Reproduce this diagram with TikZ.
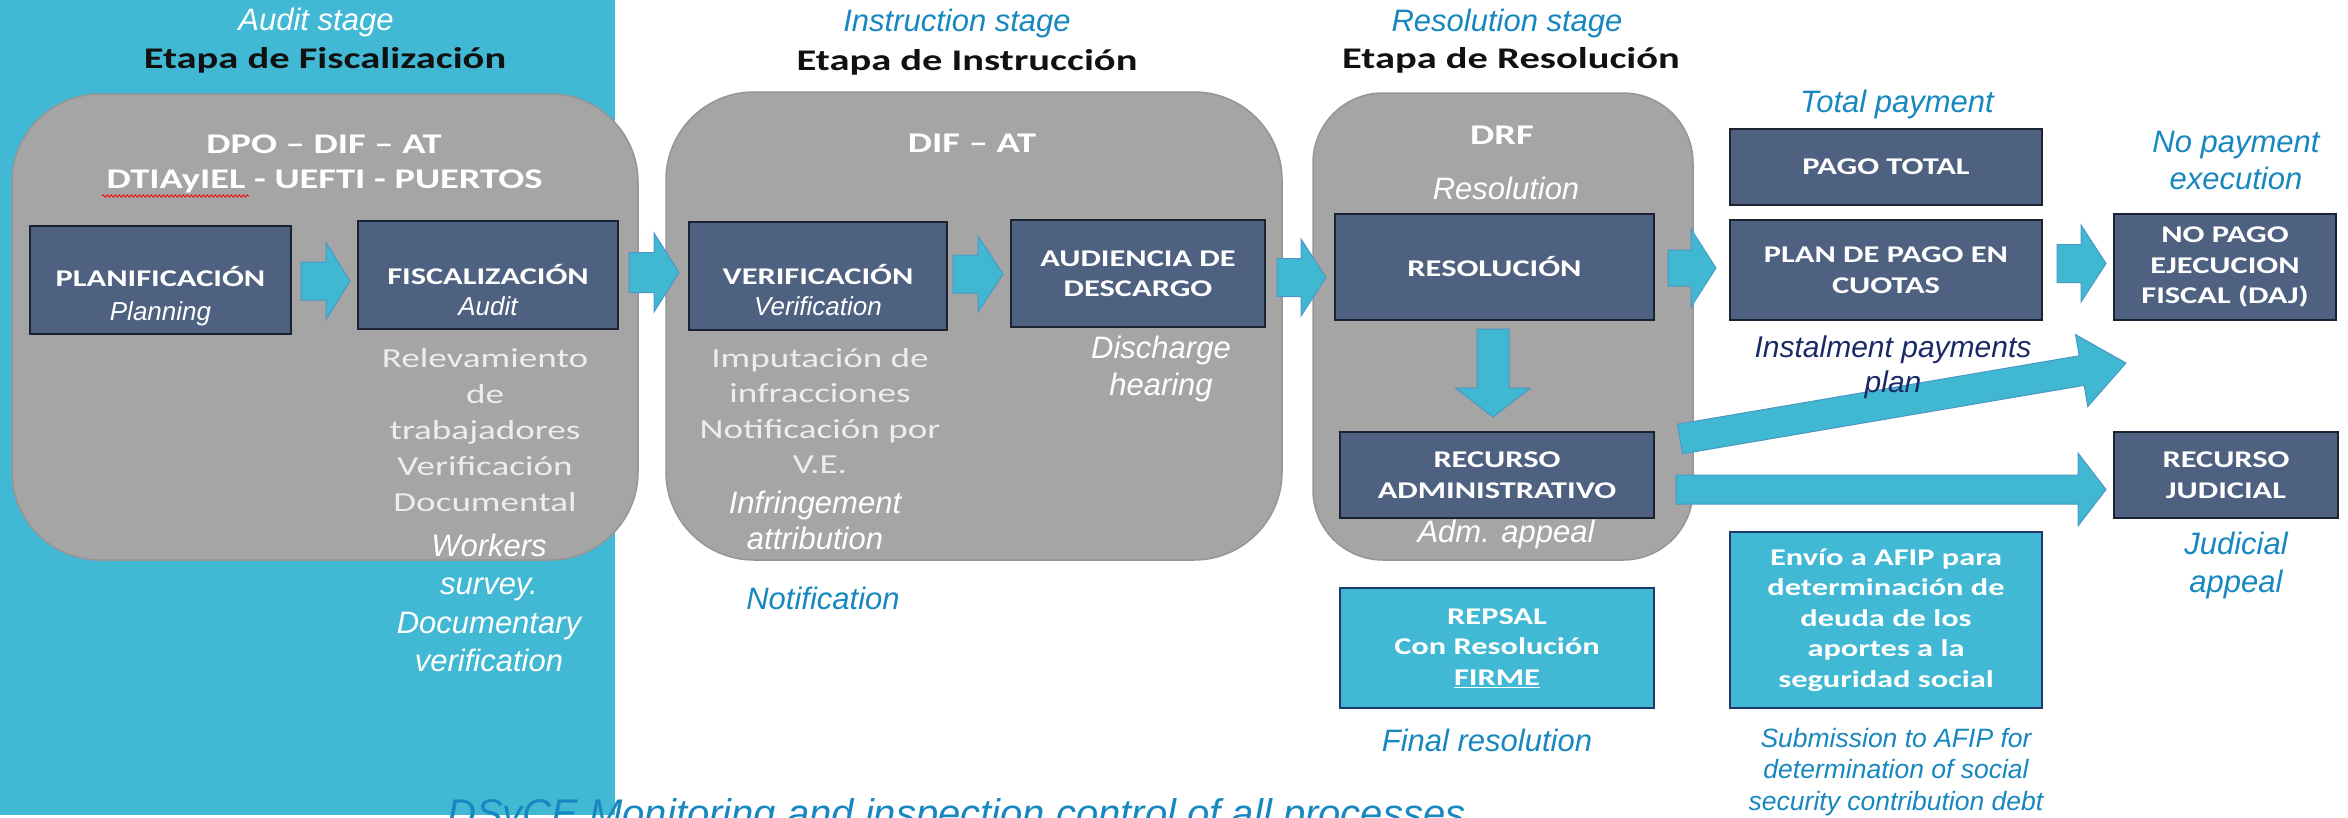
\documentclass[tikz,border=0pt]{standalone}
\usepackage{fontspec}
\setmainfont{Liberation Sans}
\newfontfamily\calfam[FakeStretch=1.35]{Carlito}
\usetikzlibrary{calc,decorations.pathmorphing}
\definecolor{cyanbg}{HTML}{41B9D4}
\definecolor{cyanbox}{HTML}{41B9D4}
\definecolor{grayb}{HTML}{A5A5A5}
\definecolor{grayedge}{HTML}{959595}
\definecolor{darkb}{HTML}{4F6180}
\definecolor{darkedge}{HTML}{1C2330}
\definecolor{cyanedge}{HTML}{1F3A6E}
\definecolor{bluet}{HTML}{1787C0}
\definecolor{navyt}{HTML}{1B2A66}
\definecolor{arrowf}{HTML}{40B8D2}
\definecolor{arrowe}{HTML}{4A98C6}
\definecolor{lgray}{HTML}{EDEDED}
\definecolor{headblack}{HTML}{111111}
% block arrow: #1 start, #2 tip, #3 shaft half width, #4 head half width, #5 head length
\newcommand\blockarrow[5]{%
  \coordinate (ba-c) at ($(#2)!#5!(#1)$);
  \draw[barrow] ($(#1)!#3!90:(#2)$) -- ($(ba-c)!#3!90:(#2)$) -- ($(ba-c)!#4!90:(#2)$) -- (#2)
     -- ($(ba-c)!#4!-90:(#2)$) -- ($(ba-c)!#3!-90:(#2)$) -- ($(#1)!#3!-90:(#2)$) -- cycle;}
\newcommand\engin[1]{{\normalfont\itshape\fontsize{26}{31}\selectfont #1}}
\begin{document}
\begin{tikzpicture}[x=1pt,y=-1pt,
  gbox/.style={draw=grayedge, line width=1.5pt, fill=grayb, inner sep=0pt},
  dbox/.style={draw=darkedge, line width=2.5pt, fill=darkb, inner sep=0pt, text=white, align=center,
     font=\calfam\bfseries\fontsize{24}{30.5}\selectfont},
  cbox/.style={dbox, draw=cyanedge, line width=2pt, fill=cyanbox},
  barrow/.style={fill=arrowf, draw=arrowe, line width=1pt, line join=miter},
  eng/.style={inner sep=0pt, align=center, font=\itshape\fontsize{31}{37}\selectfont},
  engw/.style={eng, text=white},
  engb/.style={eng, text=bluet},
  spa/.style={inner sep=0pt, align=center, text=lgray, font=\calfam\fontsize{27.5}{36}\selectfont},
  head/.style={inner sep=0pt, text=headblack, font=\calfam\bfseries\fontsize{30}{36}\selectfont},
  org/.style={inner sep=0pt, text=white, align=center, font=\calfam\bfseries\fontsize{28.5}{36}\selectfont},
  btext/.style={inner sep=0pt, text=white, align=center, font=\calfam\bfseries\fontsize{24}{31}\selectfont},
  wavy/.style={draw=red, line width=0.8pt, decorate, decoration={snake, amplitude=1.2pt, segment length=4pt}}
]
\useasboundingbox (0,0) rectangle (2348,817);
\clip (0,0) rectangle (2348,817);
\fill[cyanbg] (0,0) rectangle (615,815);

% stage containers
\node[gbox, minimum width=626pt, minimum height=466pt, rounded corners=88pt] (g1) at (325,327) {};
\node[gbox, minimum width=616pt, minimum height=468pt, rounded corners=88pt] (g2) at (974,326) {};
\node[gbox, minimum width=380pt, minimum height=467pt, rounded corners=70pt] (g3) at (1503,326.5) {};

% stage titles
\node[engw] (t1a) at (316,22) {Audit stage};
\node[head] (t1b) at (325,60) {Etapa de Fiscalización};
\node[engb] (t2a) at (957,23) {Instruction stage};
\node[head] (t2b) at (967,62) {Etapa de Instrucción};
\node[engb] (t3a) at (1507,23) {Resolution stage};
\node[head] (t3b) at (1511,60) {Etapa de Resolución};

% organisms
\node[org] (o1a) at (324,144) {DPO – DIF – AT};
\node[org] (o1b) at (324.5,181) {DTIAyIEL - UEFTI - PUERTOS};
\draw[wavy] (102,196) -- (249,196);
\node[org] (o2) at (972,143) {DIF – AT};
\node[org] (o3) at (1502,135) {DRF};
\node[engw] (o3e) at (1506,188) {Resolution};

% block arrows
\coordinate (a1s) at (301,281);    \coordinate (a1e) at (350,281);
\coordinate (a2s) at (629,272.5);  \coordinate (a2e) at (679,272.5);
\coordinate (a3s) at (953,274);    \coordinate (a3e) at (1003,274);
\coordinate (a4s) at (1277,277.5); \coordinate (a4e) at (1326,277.5);
\coordinate (a5s) at (1668,268);   \coordinate (a5e) at (1716,268);
\coordinate (a6s) at (2057,263.5); \coordinate (a6e) at (2106,263.5);
\coordinate (a7s) at (1493,329);   \coordinate (a7e) at (1493,417);
\coordinate (a8s) at (1680,439);   \coordinate (a8e) at (2126,363);
\coordinate (a9s) at (1676,489.5); \coordinate (a9e) at (2106,489.5);
\blockarrow{a1s}{a1e}{19pt}{38.5pt}{24pt}
\blockarrow{a2s}{a2e}{20pt}{39.5pt}{25pt}
\blockarrow{a3s}{a3e}{19pt}{38pt}{25pt}
\blockarrow{a4s}{a4e}{19pt}{38.5pt}{25pt}
\blockarrow{a5s}{a5e}{18pt}{39pt}{25pt}
\blockarrow{a6s}{a6e}{19pt}{38.5pt}{25pt}
\blockarrow{a7s}{a7e}{16pt}{37.5pt}{29pt}
\blockarrow{a8s}{a8e}{15pt}{36.5pt}{45pt}
\blockarrow{a9s}{a9e}{14.5pt}{36.5pt}{28pt}

% process boxes
\node[dbox, minimum width=261pt, minimum height=108pt] (plan) at (160.5,280) {};
\node[btext] (plant) at (160.5,296) {PLANIFICACIÓN\\[3pt]\engin{Planning}};
\node[dbox, minimum width=260pt, minimum height=108pt] (fisc) at (488,275) {};
\node[btext] (fisct) at (488,290) {FISCALIZACIÓN\\\engin{Audit}};
\node[dbox, minimum width=258pt, minimum height=108pt] (veri) at (818,276) {};
\node[btext] (verit) at (818,290) {VERIFICACIÓN\\\engin{Verification}};
\node[dbox, minimum width=254pt, minimum height=107pt] (aud) at (1138,273.5) {AUDIENCIA DE\\DESCARGO};
\node[dbox, minimum width=319pt, minimum height=106pt] (res) at (1494.5,267) {RESOLUCIÓN};
\node[dbox, minimum width=314pt, minimum height=86pt] (recadm) at (1497,475) {RECURSO\\ADMINISTRATIVO};
\node[cbox, minimum width=314pt, minimum height=120pt] (repsal) at (1497,648) {REPSAL\\Con Resolución\\\underline{FIRME}};
\node[dbox, minimum width=312pt, minimum height=76pt] (pago) at (1886,167) {PAGO TOTAL};
\node[dbox, minimum width=312pt, minimum height=100pt] (plpago) at (1886,270) {PLAN DE PAGO EN\\CUOTAS};
\node[cbox, minimum width=312pt, minimum height=176pt] (envio) at (1886,620) {Envío a AFIP para\\determinación de\\deuda de los\\aportes a la\\seguridad social};
\node[dbox, minimum width=222pt, minimum height=106pt] (nopago) at (2225,267) {NO PAGO\\EJECUCION\\FISCAL (DAJ)};
\node[dbox, minimum width=224pt, minimum height=86pt] (recjud) at (2226,475) {RECURSO\\JUDICIAL};

% descriptions
\node[spa, font=\calfam\fontsize{27.5}{36}\selectfont] (d1) at (485,430) {Relevamiento\\de\\trabajadores\\Verificación\\Documental};
\node[engw, font=\itshape\fontsize{31}{38.3}\selectfont] (d1e) at (489,603) {Workers\\survey.\\Documentary\\verification};
\node[spa, font=\calfam\fontsize{27.5}{35.3}\selectfont] (d2) at (820,411) {Imputación de\\infracciones\\Notificación por\\V.E.};
\node[engw, font=\itshape\fontsize{31}{36}\selectfont] (d2e) at (815,520) {Infringement\\attribution};
\node[engb] (d2n) at (823,598) {Notification};
\node[engw] (d3) at (1161,369) {Discharge\\hearing};
\node[engw] (d4) at (1506,534) {Adm. appeal};
\node[engb] (d5) at (1487,740) {Final resolution};
\node[engb] (d6) at (1897,104) {Total payment};
\node[eng, text=navyt, font=\itshape\fontsize{30}{35}\selectfont] (d7) at (1893,367) {Instalment payments\\plan};
\node[engb] (d8) at (2236,160) {No payment\\execution};
\node[engb, font=\itshape\fontsize{31}{38}\selectfont] (d9) at (2236,565) {Judicial\\appeal};
\node[engb, font=\itshape\fontsize{26.5}{31.5}\selectfont] (d10) at (1896,772) {Submission to AFIP for\\determination of social\\security contribution debt};
\node[inner sep=0pt, text=bluet, font=\itshape\fontsize{40}{48}\selectfont, anchor=base west] (foot) at (447,827) {DSyCE Monitoring and inspection control of all processes};
\end{tikzpicture}
\end{document}
